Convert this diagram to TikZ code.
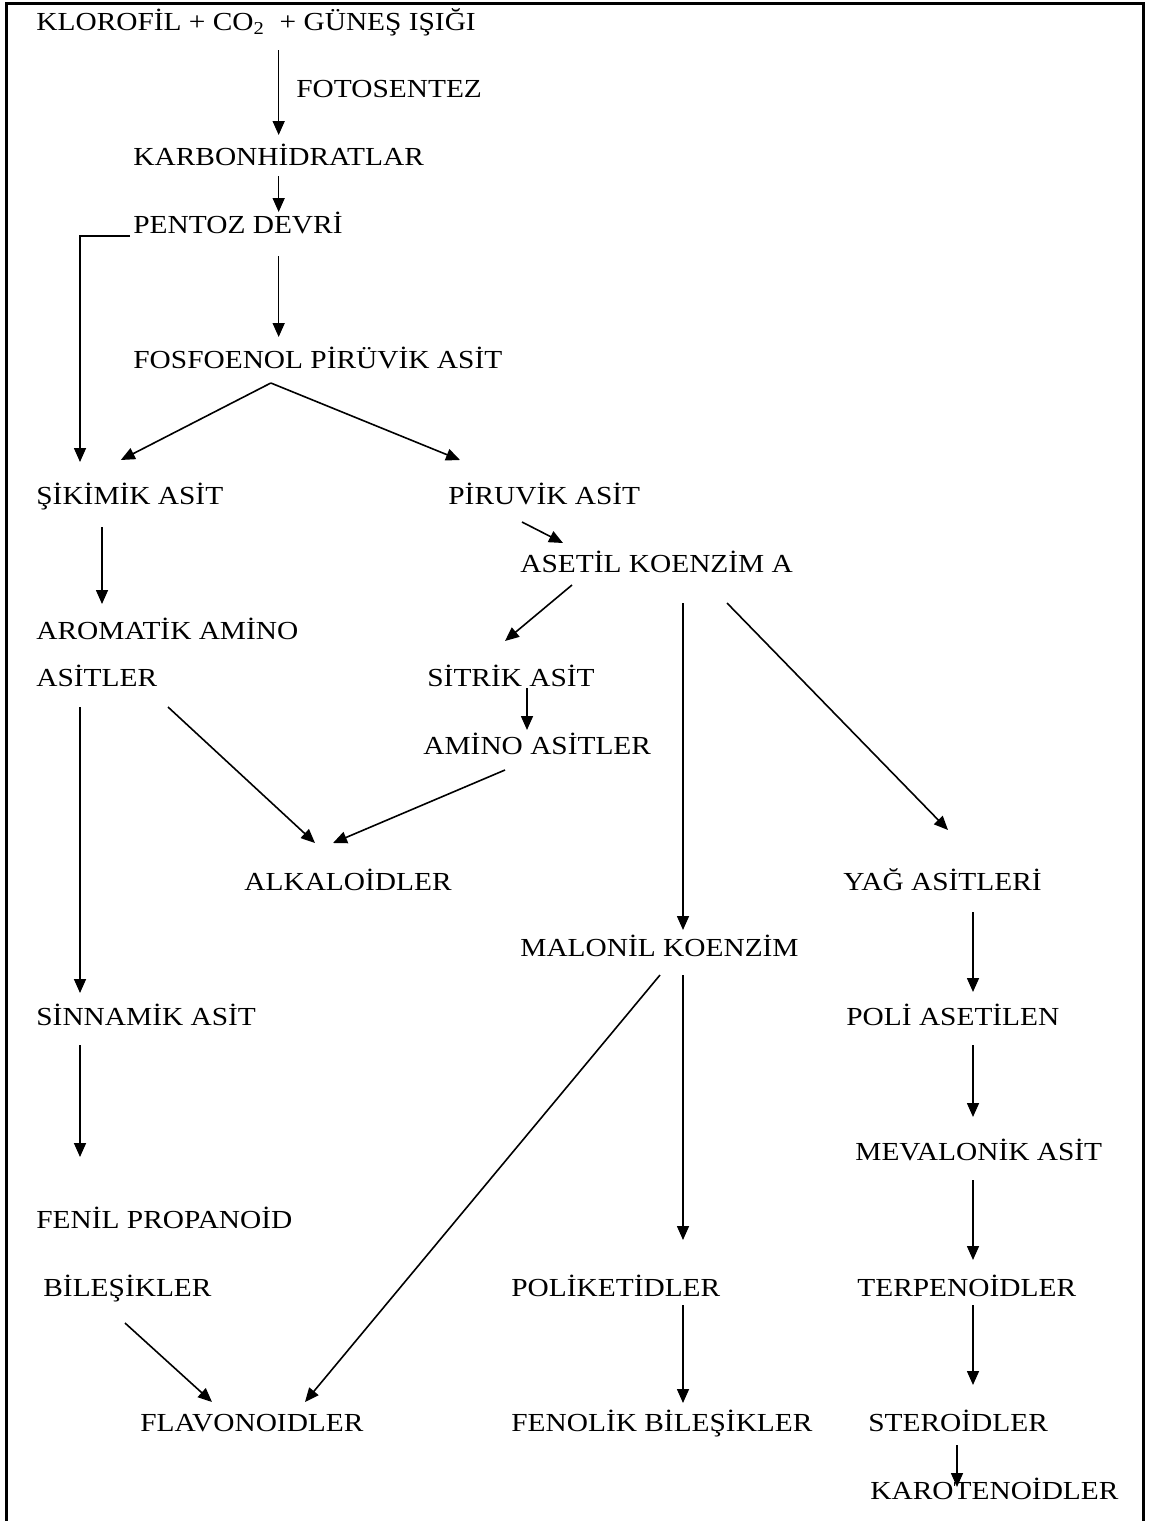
\documentclass[tikz,border=0pt]{standalone}
\usepackage{fontspec}
\setmainfont{Liberation Serif}[FakeStretch=1.13]
\usetikzlibrary{arrows.meta,calc}

\begin{document}
\begin{tikzpicture}[x=0.5pt,y=-0.5pt]
        \tikzstyle{stage}=[anchor=west,inner sep=0pt,text height=8.6pt,text depth=0pt,font=\fontsize{13}{15}\selectfont]
        \tikzstyle{flow}=[line width=0.8pt,-{Triangle[length=7pt,width=6pt]}]
        \useasboundingbox (0,0) rectangle (1150,1521);
        \draw [line width=1.5pt] (6,1521) -- (6,3) -- (1143,3) -- (1143,1521);
        % top of the chain
        \node [stage] (klorofil) at (36,22) {KLOROFİL + CO\textsubscript{2}~ + GÜNEŞ IŞIĞI};
        \node [stage] (foto) at (296,89) {FOTOSENTEZ};
        \node [stage] (karbon) at (133,157) {KARBONHİDRATLAR};
        \node [stage] (pentoz) at (133,225) {PENTOZ DEVRİ};
        \node [stage] (fosfo) at (133,360) {FOSFOENOL PİRÜVİK ASİT};
        \node [stage] (sikimik) at (36,496) {ŞİKİMİK ASİT};
        \node [stage] (piruvik) at (448,496) {PİRUVİK ASİT};
        \node [stage] (asetil) at (520,564) {ASETİL KOENZİM A};
        % middle part
        \node [stage] (aromatik) at (36,631) {AROMATİK AMİNO};
        \node [stage] (asitler) at (36,678) {ASİTLER};
        \node [stage] (sitrik) at (427,678) {SİTRİK ASİT};
        \node [stage] (amino) at (423,746) {AMİNO ASİTLER};
        \node [stage] (alkaloid) at (244,882) {ALKALOİDLER};
        \node [stage] (yag) at (843,882) {YAĞ ASİTLERİ};
        \node [stage] (malonil) at (520,948) {MALONİL KOENZİM};
        \node [stage] (sinnamik) at (36,1017) {SİNNAMİK ASİT};
        \node [stage] (poli) at (846,1017) {POLİ ASETİLEN};
        \node [stage] (mevalonik) at (855,1152) {MEVALONİK ASİT};
        % end products
        \node [stage] (fenil) at (36,1220) {FENİL PROPANOİD};
        \node [stage] (bilesik) at (43,1288) {BİLEŞİKLER};
        \node [stage] (poliket) at (511,1288) {POLİKETİDLER};
        \node [stage] (terpen) at (857,1288) {TERPENOİDLER};
        \node [stage] (flavon) at (140,1423) {FLAVONOIDLER};
        \node [stage] (fenolik) at (511,1423) {FENOLİK BİLEŞİKLER};
        \node [stage] (steroid) at (868,1423) {STEROİDLER};
        \node [stage] (karoten) at (870,1491) {KAROTENOİDLER};
        % arrows
        \draw [flow] ($(karbon.north |- klorofil.south)+(0,19)$) -- ($(karbon.north)+(0,-13)$);
        \draw [flow] ($(karbon.south)+(0,10)$) -- ($(karbon.south |- pentoz.north)+(0,-4)$);
        \draw [flow] ($(pentoz.west)+(-3,11)$) -| ($(sikimik.north west)+(44,-25)$);
        \draw [flow] ($(karbon.south |- pentoz.south)+(0,22)$) -- ($(karbon.south |- fosfo.north)+(0,-14)$);
        \draw [flow] ($(fosfo.south)+(-47,14)$) -- ($(sikimik.north)+(-9,-27)$);
        \draw [flow] ($(fosfo.south)+(-47,14)$) -- ($(piruvik.north west)+(12,-27)$);
        \draw [flow] ($(sikimik.south west)+(66,22)$) -- ($(aromatik.north west)+(66,-18)$);
        \draw [flow] ($(piruvik.south west)+(74,17)$) -- ($(asetil.north west)+(43,-12)$);
        \draw [flow] ($(asetil.south west)+(52,12)$) -- ($(sitrik.north west)+(78,-28)$);
        \draw [flow] ($(asetil.south west)+(163,30)$) -- ($(malonil.north west)+(163,-9)$);
        \draw [flow] ($(asetil.south west)+(207,30)$) -- ($(yag.north west)+(105,-43)$);
        \draw [flow] ($(sitrik.south west)+(100,1)$) -- ($(amino.north west)+(104,-7)$);
        \draw [flow] ($(asitler.south west)+(132,20)$) -- ($(alkaloid.north west)+(71,-30)$);
        \draw [flow] ($(amino.south west)+(82,15)$) -- ($(alkaloid.north west)+(89,-30)$);
        \draw [flow] ($(asitler.south west)+(44,20)$) -- ($(sinnamik.north west)+(44,-15)$);
        \draw [flow] ($(sinnamik.south west)+(44,19)$) -- ($(fenil.north west)+(44,-54)$);
        \draw [flow] ($(bilesik.south west)+(82,26)$) -- ($(flavon.north west)+(72,-12)$);
        \draw [flow] ($(malonil.south west)+(140,18)$) -- ($(flavon.north west)+(165,-12)$);
        \draw [flow] ($(malonil.south west)+(163,18)$) -- ($(poliket.north west)+(172,-39)$);
        \draw [flow] ($(poliket.south west)+(172,8)$) -- ($(fenolik.north west)+(172,-11)$);
        \draw [flow] ($(yag.south west)+(130,21)$) -- ($(poli.north west)+(127,-16)$);
        \draw [flow] ($(poli.south west)+(127,19)$) -- ($(mevalonik.north west)+(118,-26)$);
        \draw [flow] ($(mevalonik.south west)+(118,19)$) -- ($(terpen.north west)+(116,-19)$);
        \draw [flow] ($(terpen.south west)+(116,8)$) -- ($(steroid.north west)+(105,-29)$);
        \draw [flow] ($(steroid.south west)+(89,13)$) -- ($(karoten.north west)+(87,5)$);
    \end{tikzpicture}
\end{document}
